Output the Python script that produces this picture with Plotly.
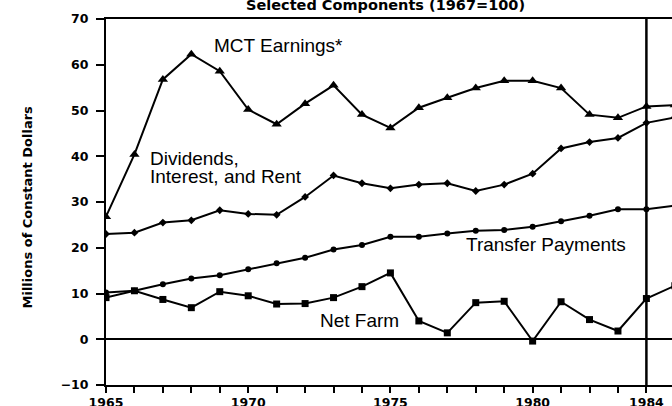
import plotly.graph_objects as go

years = list(range(1965, 1986))
mct_earnings = [26.8, 40.4, 56.8, 62.3, 58.6, 50.2, 47.0, 51.5, 55.5, 49.1, 46.2,
                50.6, 52.8, 54.9, 56.5, 56.5, 54.9, 49.1, 48.4, 50.9, 51.2]
dividends = [23.0, 23.3, 25.5, 26.0, 28.2, 27.4, 27.2, 31.1, 35.8, 34.1, 33.0,
             33.8, 34.1, 32.4, 33.8, 36.2, 41.7, 43.1, 44.0, 47.3, 48.5]
transfer = [10.2, 10.6, 12.0, 13.3, 14.0, 15.3, 16.6, 17.8, 19.6, 20.6, 22.4,
            22.4, 23.1, 23.7, 23.9, 24.6, 25.8, 27.0, 28.4, 28.4, 29.2]
net_farm = [9.1, 10.6, 8.7, 6.9, 10.4, 9.5, 7.7, 7.8, 9.1, 11.5, 14.5,
            4.0, 1.4, 8.0, 8.3, -0.4, 8.2, 4.3, 1.8, 8.9, 11.7]
x_tick_vals = [1965, 1970, 1975, 1980, 1984]
y_tick_vals = [-10, 0, 10, 20, 30, 40, 50, 60, 70]

fig = go.Figure()
series = [
    (mct_earnings, "triangle-up", 9),
    (dividends, "diamond", 6),
    (transfer, "circle", 6),
    (net_farm, "square", 7),
]
for vals, sym, sz in series:
    fig.add_trace(go.Scatter(
        x=years, y=vals, mode="lines+markers",
        line=dict(color="black", width=2),
        marker=dict(symbol=sym, size=sz, color="black"),
        showlegend=False, hoverinfo="skip",
    ))

tick_font = dict(family="DejaVu Sans", size=12.5, color="black", weight="bold")

fig.update_xaxes(
    range=[1965, 1984.9], tickvals=x_tick_vals, ticktext=[str(v) for v in x_tick_vals],
    ticks="outside", ticklen=6, tickwidth=2, tickcolor="black",
    minor=dict(dtick=1, tick0=1965, ticks="outside", ticklen=6, tickwidth=1.5, tickcolor="black"),
    showline=True, linecolor="black", linewidth=2, mirror=True,
    showgrid=False, zeroline=False, tickfont=tick_font, ticklabelstandoff=-1,
    automargin=False,
)
fig.update_yaxes(
    range=[-10, 70], tickvals=y_tick_vals,
    ticks="outside", ticklen=8, tickwidth=2, tickcolor="black",
    showline=True, linecolor="black", linewidth=2,
    showgrid=False, zeroline=True, zerolinecolor="black", zerolinewidth=1.5,
    tickfont=tick_font, ticklabelstandoff=5, automargin=False,
)

fig.add_vline(x=1984, line=dict(color="black", width=2.5))

lab_font = dict(family="Liberation Sans", size=19, color="black")
labels = [
    ("MCT Earnings*", 1968.73, 64.2),
    ("Dividends,", 1966.48, 39.6),
    ("Interest, and Rent", 1966.48, 35.5),
    ("Transfer Payments", 1977.58, 20.7),
    ("Net Farm", 1972.46, 4.0),
]
for txt, xx, yy in labels:
    fig.add_annotation(x=xx, y=yy, xref="x", yref="y", text=txt, showarrow=False,
                       xanchor="left", yanchor="middle", font=lab_font)

fig.add_annotation(x=(385 - 106) / 566, y=1 + (19 - 5) / 366, xref="paper", yref="paper",
                   text="Selected Components (1967=100)", showarrow=False,
                   xanchor="center", yanchor="middle",
                   font=dict(family="DejaVu Sans", size=14.5, color="black", weight="bold"))
fig.add_annotation(x=(27 - 106) / 566, y=(385 - 207.5) / 366, xref="paper", yref="paper",
                   text="Millions of Constant Dollars", showarrow=False, textangle=-90,
                   xanchor="center", yanchor="middle",
                   font=dict(family="DejaVu Sans", size=13, color="black", weight="bold"))

fig.update_layout(
    width=672, height=406,
    margin=dict(l=106, r=0, t=19, b=21),
    plot_bgcolor="white", paper_bgcolor="white",
)

fig.write_html("out.html", config={"displayModeBar": False},
               post_script="document.body.style.margin='0';")
